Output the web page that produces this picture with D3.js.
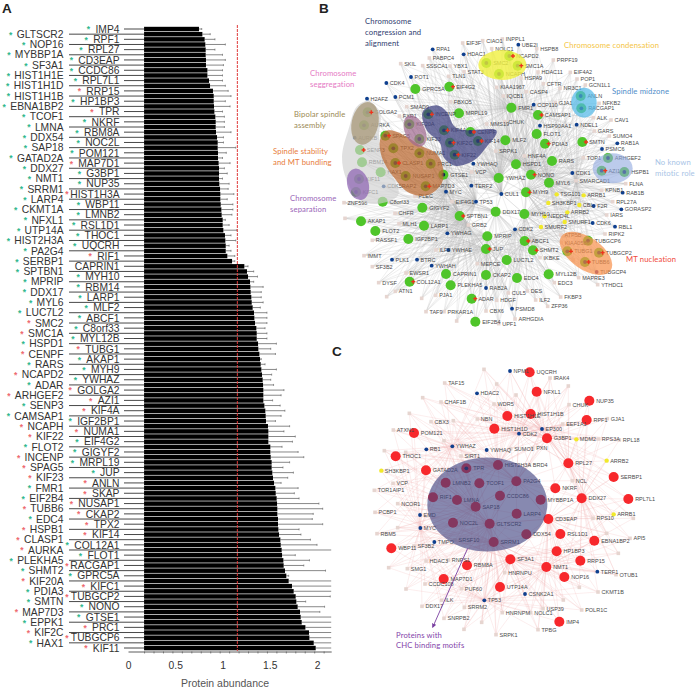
<!DOCTYPE html>
<html><head><meta charset="utf-8">
<style>html,body{margin:0;padding:0;background:#fff}svg{display:block}text{font-family:"Liberation Sans",Arial,sans-serif}</style>
<script src="https://cdn.jsdelivr.net/npm/d3@7/dist/d3.min.js"></script></head><body>
<script>
// ---------- Panel A data ----------
const rightLabels = ["IMP4","RPF1","RPL27","CD3EAP","CCDC86","RPL7L1","RRP15","HP1BP3","TPR","NKRF","RBM8A","NOC2L","POM121","MAP7D1","G3BP1","NUP35","HIST1H3A","WBP11","LMNB2","RSL1D1","THOC1","UQCRH","RIF1","CAPRIN1","MYH10","RBM14","LARP1","MLF2","ABCF1","C8orf33","MYL12B","TUBG1","AKAP1","MYH9","YWHAZ","GOLGA2","AZI1","KIF4A","IGF2BP1","NUMA1","EIF4G2","GIGYF2","MRPL19","JUP","ANLN","SKAP","NUSAP1","CKAP2","TPX2","KIF14","COL12A1","FLOT1","RACGAP1","GPRC5A","KIFC1","TUBGCP2","NONO","GTSE1","PRC1","TUBGCP6","KIF11"];
const leftLabels = ["GLTSCR2","NOP16","MYBBP1A","SF3A1","HIST1H1E","HIST1H1D","HIST1H1B","EBNA1BP2","TCOF1","LMNA","DDX54","SAP18","GATAD2A","DDX27","NMT1","SRRM1","LARP4","CKMT1A","NFXL1","UTP14A","HIST2H3A","PA2G4","SERBP1","SPTBN1","MPRIP","DDX17","MYL6","LUC7L2","SMC2","SMC1A","HSPD1","CENPF","RARS","NCAPD2","ADAR","ARHGEF2","SENP3","CAMSAP1","NCAPH","KIF22","FLOT2","INCENP","SPAG5","KIF23","FMR1","EIF2B4","TUBB6","EDC4","HSPB1","CLASP1","AURKA","PLEKHA5","SHMT2","KIF20A","PDIA3","SMTN","MAP7D3","EPPK1","KIF2C","HAX1"];
const abundance = [.751,.787,.811,.818,.822,.822,.825,.825,.84,.84,.857,.868,.899,.907,.907,.91,.914,.924,.928,.928,.931,.942,.949,.949,.952,.952,.959,.963,.963,.963,.966,.974,.977,.977,.981,.988,.991,1.002,1.002,1.009,1.026,1.03,1.034,1.034,1.051,1.101,1.231,1.259,1.27,1.291,1.295,1.298,1.305,1.309,1.319,1.333,1.337,1.344,1.358,1.362,1.362,1.376,1.379,1.39,1.397,1.404,1.411,1.418,1.425,1.429,1.432,1.432,1.432,1.443,1.453,1.457,1.46,1.481,1.485,1.485,1.485,1.506,1.506,1.51,1.52,1.52,1.527,1.534,1.545,1.559,1.563,1.573,1.577,1.58,1.58,1.587,1.587,1.591,1.598,1.612,1.616,1.626,1.63,1.644,1.647,1.661,1.675,1.7,1.735,1.753,1.774,1.781,1.795,1.82,1.827,1.838,1.877,1.915,1.919,1.965,1.986];
const errorTop = [.78,.87,.92,1.03,.92,1,1.03,1.01,1,1,1,1.03,1.06,1.09,1.03,1.08,1,1.02,1.02,1.02,1.09,1.01,1.01,1.14,1.04,1,1.08,1.02,1.05,1,1.07,1.06,1.12,1.05,1.11,1.11,1.1,1.03,1.07,1.15,1.09,1.14,1.07,1.09,1.13,1.13,1.27,1.33,1.37,1.33,1.43,1.41,1.41,1.43,1.4,1.47,1.47,1.47,1.45,1.47,1.47,1.57,1.51,1.56,1.41,1.45,1.57,1.52,1.51,1.54,1.65,1.62,1.53,1.61,1.66,1.62,1.56,1.71,1.65,1.77,1.74,1.63,1.8,1.86,1.71,1.64,1.75,1.69,1.62,1.8,1.76,1.81,2.02,2.06,1.96,1.95,2.06,1.81,1.83,1.93,2,2.2,1.77,1.92,1.86,2.09,1.7,2.2,2.2,2.2,2.14,1.88,2.08,2.03,2.2,2.2,2.2,2.2,2.2,2.2,2.2];
const redStar = ["RRP15","TPR","MAP7D1","HIST1H3A","RIF1","SMC2","SMC1A","CENPF","NCAPD2","ARHGEF2","NCAPH","KIF22","INCENP","SPAG5","KIF23","TUBB6","HSPB1","CLASP1","AURKA","KIF20A","MAP7D3","KIF2C","TUBG1","GOLGA2","AZI1","KIF4A","NUMA1","ANLN","SKAP","NUSAP1","CKAP2","TPX2","KIF14","RACGAP1","TUBGCP2","KIFC1","PRC1","TUBGCP6","KIF11"];
const noStar = ["CAPRIN1"];
const axisStart = 0.17, axisEnd = 2.15, threshold = 1.157;
const tickLabels = [0,0.5,1,1.5,2];

// ---------- Panel B nodes: name, layout x, layout y, kind (layout = reference crop units) ----------
const nodesBUpper = [
["EIF3F",368,129,"p"],["CIAO1",428,122,"p"],["INPPL1",487,117,"p"],["UBE2I",535,134,"d"],["NOLC1",455,146,"p"],["HSPB8",590,146,"p"],["RPA1",278,148,"d"],["HDAC1",371,163,"d"],["PABPC4",268,174,"p"],
["NCAPD2",508,168,"G+"],["SMC2",439,189,"G"],["SMC1A",533,197,"G+"],["NCAPH",477,222,"G"],["PRPF19",640,180,"p"],["SKIL",182,191,"p"],["SSSCA1",248,197,"p"],["YBX1",330,198,"p"],["STAT3",372,215,"p"],["TLN1",326,229,"p"],["POT1",213,231,"d"],["HDAC11",594,216,"p"],["EIF4A2",691,217,"p"],["HSPA9",543,234,"p"],["POP1",711,237,"p"],["CFTR",610,251,"p"],["GCN1L1",736,255,"p"],["CDK4",139,249,"d"],
["GPRC5A",226,267,"g"],["EIF4G2",328,260,"g+"],["KIAA1967",470,262,"p"],["NR3C1",660,265,"p"],["CASP4",559,275,"p"],["IQCB1",490,288,"p"],["H2AFZ",81,296,"d"],["PCM1",166,291,"d"],["ANLN",722,288,"G"],["RACGAP1",724,325,"G"],["NFKB2",777,310,"p"],["CCP110",581,314,"d"],["GJA1",646,308,"p"],["FMR1",514,323,"g"],["FBXO5",331,305,"p"],["SMAD9",200,320,"p"],
["GOLGA2",83,337,"G+"],["INCENP",265,343,"G+"],["MRPL19",357,340,"g"],["FXR1",178,348,"p"],["CAMSAP1",594,345,"g+"],["ALK",760,353,"p"],["CAV1",813,360,"p"],["CHUK",495,365,"p"],["MMS19",440,372,"p"],["HSP90AA1",600,377,"d"],["NDEL1",710,374,"d"],["AURKA",72,376,"G"],["KIF20A",208,373,"G"],["KIF4A",312,391,"G+"],["CENPF",391,396,"G+"],["FLOT1",590,402,"g"],["GARS",763,393,"p"],["SUMO4",808,408,"p"],["AURKB",44,413,"d"],["SPAG5",136,407,"G+"],["KIF23",238,417,"G"],["KIF2C",330,428,"G+"],["KIF14",414,423,"G+"],["MLF2",496,421,"g"],["PDIA3",615,431,"g+"],["SMTN",727,426,"g+"],["RAB1A",832,430,"d"],["SENP3",60,450,"g+"],["TPX2",160,445,"G"],["SRPK1",467,453,"p"],["NUMA1",238,460,"G"],["KIF22",344,464,"G+"],["PSMC6",786,447,"d"],["HNF4A",553,468,"p"],["TOP1",730,473,"p"],["ARHGEF2",804,474,"G"]];
const nodesBLower = [
["RBM14",66,37,"g"],["CLASP1",166,39,"G+"],["PRC1",272,41,"G"],["YWHAQ",400,41,"d"],["HSPD1",528,43,"g"],["RARS",636,33,"g"],["AZI1",785,62,"G+"],["HSPB1",853,66,"G"],["HAX1",122,67,"g"],["NUSAP1",197,78,"G"],["GTSE1",310,74,"G"],["VCP",395,66,"p"],["YWHAZ",476,84,"g"],["NONO",573,74,"g+"],["CDK1",697,69,"d"],["MYL6",627,98,"g"],["SMARCAD1",708,92,"p"],["FLNA",857,101,"p"],["KIF11",57,87,"G"],["CDK5RAP2",131,109,"d"],["MAP7D3",257,109,"G+"],["TERF2",394,107,"d"],["KPNB1",785,121,"p"],["RAB1B",848,128,"d"],["KIFC1",48,126,"G"],["PLEC",225,139,"p"],["MYC",318,125,"d"],["CUL1",484,132,"d"],["MYH9",558,127,"g+"],["TSG101",650,133,"y"],["ARRB1",731,136,"y"],
["C8orf33",128,155,"g"],["ZNF598",12,158,"p"],["EIF4G1",336,155,"p"],["TP53",408,155,"d"],["SH3KBP1",625,159,"y"],["CBL",718,165,"y"],["F2R",761,168,"d"],["RPL27A",818,155,"p"],["GIGYF2",247,173,"g"],["CHFR",165,190,"p"],["SPTBN1",359,198,"g+"],["DDX17",467,185,"g"],["MYH10",553,192,"g"],["ARRB2",682,187,"y"],["GORASP2",844,178,"d"],["IARS",800,195,"p"],["NEDD4L",614,199,"y"],["AKAP1",63,214,"g"],["MLH1",177,221,"p"],["LARP1",252,227,"g"],["GRB2",385,225,"p"],["SMURF1",674,216,"y"],["CDK6",758,219,"d"],["RBL1",825,230,"d"],["SMURF2",603,231,"y"],["CDK2",525,238,"d"],["FLOT2",106,243,"g"],["YWHAG",322,250,"d"],["RIPK2",795,252,"p"],["MPRIP",442,259,"g"],["ATP5B",663,255,"p"],["RASSF1",97,271,"p"],["IGF2BP1",205,267,"g"],["ABCF1",554,273,"g+"],["KIAA0586",664,278,"p"],["TUBGCP6",744,272,"G"],["JUP",438,297,"g+"],["ILF3",288,300,"p"],["YWHAE",325,300,"d"],["SHMT2",579,301,"g+"],["TUBG1",682,304,"G+"],["TUBGCP2",777,308,"G+"],["IMMT",72,317,"p"],["PLK1",156,329,"d"],["BTRC",231,329,"d"],["LUC7L2",500,330,"g"],["IKBKE",600,323,"p"],["TUBB6",735,336,"G+"],["SF3B2",97,350,"p"],["YWHAH",275,347,"d"],["MEPCE",412,341,"p"],["TUBGCP4",770,366,"v"],["EWSR1",198,369,"p"],["CAPRIN1",318,372,"g"],["CKAP2",438,375,"g"],["EDC4",531,384,"g"],["MYL12B",626,373,"g"],["MAPRE3",716,383,"p"],["DYSF",116,398,"p"],["COL12A1",209,395,"g+"],["PLEKHA5",332,406,"g"],["RAB2A",438,414,"d"],["EDC3",643,398,"p"],["YTHDC1",773,404,"p"],["ATN1",166,424,"p"],["CUL5",505,429,"p"],["DES",562,423,"p"],["ADAR",395,446,"g+"],["PJA1",287,436,"p"],["HDGF",470,451,"p"],["ILF2",587,450,"p"],["FKBP3",662,441,"p"],["ZFP36",623,469,"p"],["TAF9",258,485,"p"],["PRKAR1A",312,485,"p"],["CBX6",438,483,"p"],["PSMD8",516,476,"d"],["EIF2B4",406,515,"g"],["UPF1",476,521,"p"],["ARHGDIA",525,507,"p"],["",350,513,"p"],["",245,445,"p"],["",15,205,"p"],["",140,440,"p"],["",700,330,"p"]];
const hubsB = ["YWHAZ","MYH9","DDX17","MYH10","SPTBN1","MPRIP","NONO","HSPD1","CDK2","JUP","ABCF1","TP53","GRB2","MYC","CUL1","FMR1","MYL6","SMARCAD1"];

// ---------- Panel C nodes ----------
const nodesCUpper = [
["NPM1",510,183,"d"],["UQCRH",569,187,"r"],["IRAK4",630,204,"p"],["TAF15",314,219,"p"],["NFXL1",590,245,"r"],["HDAC2",411,250,"d"],["NUP35",748,272,"r"],["CHAF1B",303,276,"p"],["WDR5",462,282,"p"],["CHUK",687,284,"p"],["HIST1H1E",502,318,"r"],["HIST1H1B",572,312,"r"],["NBN",412,327,"p"],["RPF1",740,330,"r"],["GJA1",802,326,"p"],["CBX3",273,335,"p"],["EEF1A1",668,342,"p"],["HIST1H1D",463,356,"r"],["EP300",606,357,"d"],["ATXN1",160,360,"p"],["POM121",222,369,"r"],["CDK2",537,371,"d"],["G3BP1",621,385,"r"],["MDM2",709,388,"y"],["RPS3A",775,387,"p"],["RPL18",838,390,"p"],["RB1",259,418,"d"],["YWHAZ",337,409,"d"],["YWHAQ",440,420,"d"],["SUMO1",512,416,"p"],["PXN",578,414,"p"],["THOC1",167,439,"r"],["SIRT1",363,438,"p"],["ARRB2",800,452,"y"],["TPR",379,475,"R"],["HIST2H3A",474,465,"r"],["BRD4",568,465,"p"],["RPL27",685,460,"r"],["SH3KBP1",124,482,"y"],["GATAD2A",258,481,"r"],["SERBP1",821,501,"r"],["PA2G4",529,514,"r"],["NCL",697,512,"p"],["TCOF1",418,520,"r"],["LMNB2",317,518,"r"],["VCP",159,520,"p"],["NKRF",646,535,"r"],["TOR1AIP1",103,541,"p"],
["",432,178,"p"],["",470,222,"p"],["",248,263,"p"],["",208,310,"p"],["",133,422,"p"],["",685,228,"p"],["",528,255,"p"],["",340,332,"p"],["",312,392,"p"],["",197,427,"p"]];
const nodesCLower = [
["DDX27",725,25,"r"],["RPL7L1",865,27,"r"],["RIF1",279,22,"r"],["LMNA",351,30,"r"],["CCDC86",480,17,"r"],["MYBBP1A",602,29,"r"],["NCOR1",173,41,"p"],["SAP18",407,50,"r"],["PCBP1",105,67,"p"],["EMD",240,75,"d"],["LARP4",530,71,"r"],["ARRB1",821,73,"y"],["RPS10",759,85,"p"],["NOC2L",339,98,"r"],["GLTSCR2",449,101,"r"],["MYC",241,114,"d"],["CD3EAP",625,87,"r"],["RBM5",111,131,"p"],["RSL1D1",661,132,"r"],["DDX54",559,133,"r"],["API5",870,145,"p"],["EBNA1BP2",763,152,"r"],["TMPO",283,156,"d"],["SRSF10",345,150,"p"],["SRRM1",461,156,"r"],["WBP11",154,175,"r"],["SF3B2",222,168,"p"],["HP1BP3",650,184,"r"],["SF3A1",511,208,"r"],["RRP15",721,212,"r"],["HDAC3",258,213,"p"],["RNPS1",325,210,"p"],["RBM8A",381,226,"r"],["SMG1",202,236,"p"],["NMT1",619,231,"r"],["HNRNPU",494,248,"p"],["TERF1",772,245,"d"],["OTUB1",828,254,"p"],["MAP7D1",311,267,"r"],["NOP16",673,261,"r"],["CCDC108",255,282,"p"],["PUF60",364,296,"p"],["UTP14A",480,291,"r"],["CSNK2A1",555,312,"d"],["CKMT1B",774,306,"p"],["ILK",305,331,"p"],["TP53",433,331,"d"],["DDX17",246,349,"p"],["SRRM2",373,352,"p"],["USP39",609,356,"p"],["POLR1C",725,360,"p"],["HNRNPM",487,368,"p"],["NOLC1",572,368,"p"],["SNRPB2",312,385,"p"],["IMP4",658,395,"r"],["SRPK1",468,434,"p"],["TPBG",594,419,"p"],
["",146,233,"p"],["",198,297,"p"],["",425,397,"p"],["",372,418,"p"],["",670,330,"p"],["",718,292,"p"],["",800,130,"p"],["",880,85,"p"],["",835,190,"p"],["",173,113,"p"]];
const hubsC = ["CDK2","MYC","EP300","G3BP1","GLTSCR2","PA2G4","DDX27","SRRM1","NMT1","TP53","HIST2H3A","SAP18","RPL27","SF3A1","YWHAZ","CD3EAP"];

// ---------- Group regions (layout units, lower crops shifted into the upper crop's frame) ----------
const ellipsesB = [
{c:"#a89878",o:.75,v:[75,370,40,65,12]},{c:"#a0688f",o:.7,v:[225,393,30,50,-25]},{c:"#8a5fb0",o:.7,v:[54,553,32,48,-15]},
{c:"#f0f040",o:.8,v:[487,195,72,45,0]},{c:"#50b8e8",o:.7,v:[732,308,38,45,0]},{c:"#90a8e0",o:.6,v:[818,505,60,45,0]},{c:"#f8904a",o:.7,v:[738,760,90,48,35]}];
const hullGrey = [[85,303],[120,340],[118,420],[155,520],[175,585],[110,612],[60,600],[20,540],[6,470],[28,380],[50,320]];
const hullNavy = [[248,335],[290,316],[320,335],[350,385],[470,392],[440,440],[400,482],[345,497],[310,470],[300,430],[260,390]];
const hullBrown = [[135,394],[120,420],[125,470],[160,530],[210,580],[265,585],[305,550],[310,510],[290,462],[240,436],[200,410],[160,392]];
const ellipseC = [442,43.5,180,141];

// ---------- Text annotations ----------
const notes = [
["Chromosome","#2f4070",365,24],["congression and","#2f4070",365,35],["alignment","#2f4070",365,46],
["Chromosome condensation","#f4c545",564,48],["Spindle midzone","#4f8dc9",612,94],["No known","#a9c4e6",655,165],["mitotic role","#a9c4e6",655,176],["MT nucleation","#f04a3a",626,262],
["Chromosome","#e57ac4",310,76],["seggregation","#e57ac4",310,87],["Bipolar spindle","#9c8a55",294,117],["assembly","#9c8a55",294,128],["Spindle stability","#e77c3c",273,154],["and MT bundling","#e77c3c",273,165],["Chromosome","#9a66b8",290,201],["separation","#9a66b8",290,212],
["Proteins with","#8444aa",396,638],["CHC binding motifs","#8444aa",396,648]];
const panelLetters = [["A",2,13],["B",319,13],["C",332,356]];

// ---------- Scales ----------
const W = 696, H = 688;
const rows = rightLabels.flatMap((n,i)=> i<leftLabels.length ? [[n,0],[leftLabels[i],1]] : [[n,0]])
  .map(([name,side],i)=>({name,side,v:abundance[i],e:errorTop[i]}));
const x = d3.scaleLinear().domain([0,axisEnd]).range([128,331.2]).clamp(true);
const y = d3.scalePoint().domain(rows.map(d=>d.name)).range([29,648]);
const nx = d3.scaleLinear().domain([0,1068]).range([340,696]);
const cropY = top => d3.scaleLinear().domain([0,480]).range([top,top+160]);
const yBU=cropY(0), yBL=cropY(150), yCU=cropY(310), yCL=cropY(490);

const svg = d3.select("body").append("svg").attr("width",W).attr("height",H).attr("viewBox",[0,0,W,H]);

// ---------- Panel A ----------
const A = svg.append("g");
A.selectAll("line.lead").data(rows).join("line").attr("class","lead")
  .attr("x1",d=>d.side?69:124).attr("x2",x(axisStart)).attr("y1",d=>y(d.name)).attr("y2",d=>y(d.name))
  .attr("stroke","#333").attr("stroke-width",.9);
A.selectAll("line.err").data(rows).join("line").attr("class","err")
  .attr("x1",d=>x(d.v)).attr("x2",d=>x(d.e)).attr("y1",d=>y(d.name)).attr("y2",d=>y(d.name))
  .attr("stroke","#555").attr("stroke-width",.7);
A.selectAll("line.cap").data(rows.filter(d=>d.e<axisEnd)).join("line").attr("class","cap")
  .attr("x1",d=>x(d.e)).attr("x2",d=>x(d.e)).attr("y1",d=>y(d.name)-1).attr("y2",d=>y(d.name)+1)
  .attr("stroke","#555").attr("stroke-width",.6);
A.selectAll("rect.bar").data(rows).join("rect").attr("class","bar")
  .attr("x",x(axisStart)).attr("width",d=>x(d.v)-x(axisStart)).attr("y",d=>y(d.name)-2.2).attr("height",4.5).attr("fill","#000");
A.append("line").attr("x1",x(threshold)).attr("x2",x(threshold)).attr("y1",25).attr("y2",651)
  .attr("stroke","#e03a3a").attr("stroke-width",1).attr("stroke-dasharray","3,1");
const labs = A.selectAll("text.rowl").data(rows).join("text").attr("class","rowl")
  .attr("x",d=>d.side?63.5:119.5).attr("y",d=>y(d.name)).attr("dy","0.36em").attr("text-anchor","end")
  .attr("font-size",10.3).attr("fill","#333").text(d=>d.name);
labs.each(function(d){
  if(noStar.includes(d.name)) return;
  const w=this.getComputedTextLength();
  const sx=d.side? 63.5-w-6 : Math.max(67,119.5-w-7);
  A.append("text").attr("x",sx).attr("y",y(d.name)+3.4).attr("text-anchor","middle")
    .attr("font-size",8.5).attr("font-weight","bold").attr("fill",redStar.includes(d.name)?"#ee6a70":"#30b88e").text("*");
});
const axisMinor = d3.axisBottom(x).tickValues(d3.range(axisStart,axisEnd+.001,.1)).tickFormat("").tickSize(2).tickSizeOuter(0);
A.append("g").attr("transform","translate(0,651.5)").call(axisMinor).call(g=>{g.select(".domain").attr("stroke","#333").attr("stroke-width",.8);g.selectAll(".tick line").attr("stroke","#444").attr("stroke-width",.6)});
const axisLab = d3.axisBottom(x).tickValues(tickLabels).tickFormat(d=>d).tickSize(0);
A.append("g").attr("transform","translate(0,659)").call(axisLab).call(g=>{g.select(".domain").remove();g.selectAll("text").attr("font-size",10.3).attr("fill","#333").attr("font-family","Liberation Sans")});
A.append("text").attr("x",225).attr("y",687).attr("text-anchor","middle").attr("font-size",10.5).attr("fill","#555").text("Protein abundance");

// ---------- Networks ----------
const kinds = {
 g:{f:"#4fc52a",r:5},G:{f:"#4fc52a",r:5,dot:1},r:{f:"#f7282c",r:5},R:{f:"#f7282c",r:5,dot:1},
 d:{f:"#0e3f8e",r:1.9},p:{f:"#e6d5d0",r:1.8,sq:1},y:{f:"#f1e92b",r:2.2},v:{f:"#6a2a8a",r:1.9}};
const kindOf = k=>kinds[k[0]];
function layoutNodes(list,sy){return list.map(([name,a,b,k])=>({name,px:nx(a),py:sy(b),k:k,plus:k.endsWith("+"),s:kindOf(k)}));}
function linkEdges(nodes,hubs,count){
  const hubNodes = hubs.map(h=>nodes.find(n=>n.name===h)).filter(Boolean);
  const out=[];
  nodes.forEach(n=>{
    const near=d3.sort(hubNodes.filter(h=>h!==n),h=>Math.hypot(h.px-n.px,h.py-n.py)).slice(0,count);
    near.forEach(h=>out.push([n,h]));
  });
  return out;
}
function drawNet(nodes,hubs,count,col,op,drawRegions){
  const g=svg.append("g");
  g.append("g").selectAll("line").data(linkEdges(nodes,hubs,count)).join("line")
    .attr("x1",d=>d[0].px).attr("y1",d=>d[0].py).attr("x2",d=>d[1].px).attr("y2",d=>d[1].py)
    .attr("stroke",col).attr("stroke-width",.4).attr("stroke-opacity",op);
  const sym=d3.symbol();
  const ng=g.append("g");
  ng.selectAll("path").data(nodes).join("path")
    .attr("transform",d=>`translate(${d.px},${d.py})`)
    .attr("d",d=>d.s.sq?sym.type(d3.symbolSquare).size(Math.pow(d.s.r*2,2))():sym.type(d3.symbolCircle).size(Math.PI*d.s.r*d.s.r)())
    .attr("fill",d=>d.s.f);
  ng.selectAll("circle").data(nodes.filter(d=>d.s.dot)).join("circle")
    .attr("cx",d=>d.px).attr("cy",d=>d.py).attr("r",1.9).attr("fill","#07264f");
  ng.selectAll("text").data(nodes.filter(d=>d.name)).join("text")
    .attr("x",d=>d.px+(d.s.r>3?6.8:3.5)).attr("y",d=>d.py).attr("dy","0.36em")
    .attr("font-size",5.5).attr("fill","#4a4a4a").text(d=>d.name);
  drawRegions(g);
  g.append("g").selectAll("path").data(nodes.filter(d=>d.plus)).join("path")
    .attr("transform",d=>`translate(${d.px+3.6},${d.py})`)
    .attr("d",d3.symbol().type(d3.symbolCross).size(9)).attr("fill","#f0321e");
}
const loop=d3.line().x(d=>nx(d[0])).y(d=>yBU(d[1])).curve(d3.curveCatmullRomClosed.alpha(.5));
function ellipsePath(sel){
  sel.attr("transform",d=>`translate(${nx(d.v[0])},${yBU(d.v[1])}) rotate(${d.v[4]})`)
     .attr("rx",d=>nx(d.v[2])-nx(0)).attr("ry",d=>yBU(d.v[3])-yBU(0)).attr("fill",d=>d.c).attr("fill-opacity",d=>d.o);
}
const nodesB=layoutNodes(nodesBUpper,yBU).concat(layoutNodes(nodesBLower,yBL));
drawNet(nodesB,hubsB,6,"#b3b3b3",.55,g=>{
  g.append("path").attr("d",loop(hullGrey)).attr("fill","#cfcfcf").attr("fill-opacity",.65);
  g.append("path").attr("d",loop(hullBrown)).attr("fill","#bd6a30").attr("fill-opacity",.72);
  g.append("path").attr("d",loop(hullNavy)).attr("fill","#3b3f80").attr("fill-opacity",.72);
  g.selectAll("ellipse").data(ellipsesB).join("ellipse").call(ellipsePath);
});
const nodesC=layoutNodes(nodesCUpper,yCU).concat(layoutNodes(nodesCLower,yCL));
drawNet(nodesC,hubsC,5,"#f0a8a8",.5,g=>{
  g.append("ellipse").attr("cx",nx(ellipseC[0])).attr("cy",yCL(ellipseC[1])).attr("rx",nx(ellipseC[2])-nx(0)).attr("ry",yCL(ellipseC[3])-yCL(0))
   .attr("fill","#3e4080").attr("fill-opacity",.62);
});

// arrow to the CHC note
svg.append("defs").append("marker").attr("id","ah").attr("viewBox","0 0 6 6").attr("refX",5).attr("refY",3).attr("markerWidth",5).attr("markerHeight",5).attr("orient","auto")
  .append("path").attr("d","M0,0L6,3L0,6Z").attr("fill","#7a3fa0");
svg.append("line").attr("x1",nx(383)).attr("y1",yCL(175)).attr("x2",nx(278)).attr("y2",yCL(412))
  .attr("stroke","#7a3fa0").attr("stroke-width",.9).attr("marker-end","url(#ah)");

// annotations
svg.append("g").selectAll("text").data(notes).join("text").attr("x",d=>d[2]).attr("y",d=>d[3])
  .attr("font-size",7.7).attr("letter-spacing",.12).style("font-family","Lato").attr("fill",d=>d[1]).text(d=>d[0]);
svg.append("g").selectAll("text").data(panelLetters).join("text").attr("x",d=>d[1]).attr("y",d=>d[2])
  .attr("font-size",13.5).attr("font-weight","bold").attr("fill","#222").text(d=>d[0]);
</script></body></html>
